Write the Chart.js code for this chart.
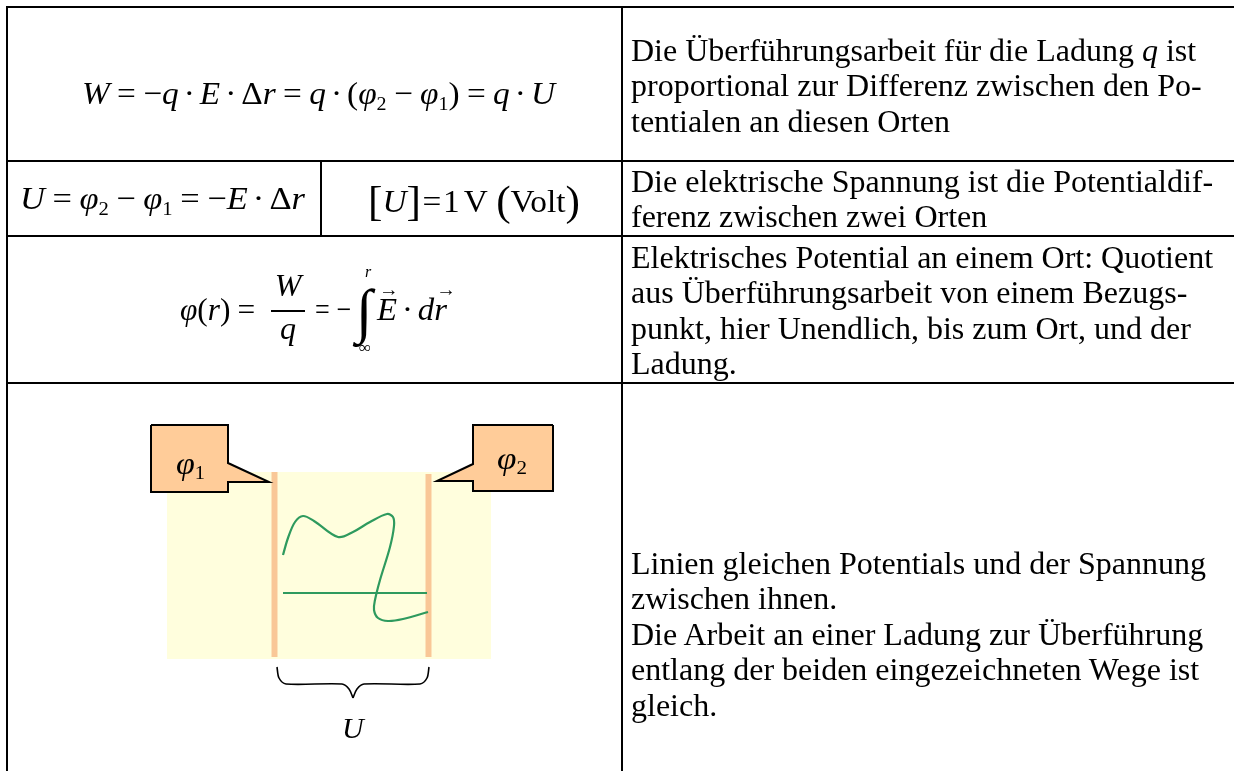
<!DOCTYPE html>
<html><head><meta charset="utf-8">
<script src="https://cdn.jsdelivr.net/npm/chart.js@4/dist/chart.umd.min.js"></script>
<style>
html,body{margin:0;padding:0;background:#fff;width:1234px;height:771px;overflow:hidden;}
#wrap{position:relative;width:1234px;height:771px;font-family:'Liberation Serif','Times New Roman',serif;color:#000;}
#c{position:absolute;left:0;top:0;z-index:0;}
.h{position:absolute;background:#000;height:2px;z-index:2}
.v{position:absolute;background:#000;width:2px;z-index:2}
.txt{position:absolute;left:631px;font-size:32px;line-height:35.4px;white-space:nowrap;z-index:3}
.f{position:absolute;white-space:nowrap;line-height:0;z-index:3;font-size:32px;transform-origin:0 50%}
.c{transform:translateX(-50%);transform-origin:50% 50%}
i{font-style:italic}
.op{margin:0 0.22em}
.dot{margin:0 0.15em}
.s{font-size:0.6em;position:relative;top:0.28em;font-style:normal}
.vec{position:relative}
.arr{position:absolute;left:0.1em;top:-0.6em;font-size:0.6em;line-height:1}
.big{font-size:1.3em;position:relative;top:0.06em}
.bar{position:absolute;background:#000;height:1.5px;z-index:3}
</style></head>
<body><div id="wrap">
<canvas id="c" width="1234" height="771"></canvas>

<!-- table rules -->
<div class="h" style="left:6px;top:6px;width:1228px"></div>
<div class="h" style="left:6px;top:160px;width:1228px"></div>
<div class="h" style="left:6px;top:235px;width:1228px"></div>
<div class="h" style="left:6px;top:382px;width:1228px"></div>
<div class="v" style="left:6px;top:6px;height:765px"></div>
<div class="v" style="left:621px;top:6px;height:765px"></div>
<div class="v" style="left:320px;top:160px;height:76px"></div>

<!-- right column text -->
<div class="txt" style="top:33px">Die Überführungsarbeit für die Ladung <i>q</i> ist<br>proportional zur Differenz zwischen den Po-<br>tentialen an diesen Orten</div>
<div class="txt" style="top:164px">Die elektrische Spannung ist die Potentialdif-<br>ferenz zwischen zwei Orten</div>
<div class="txt" style="top:240px">Elektrisches Potential an einem Ort: Quotient<br>aus Überführungsarbeit von einem Bezugs-<br>punkt, hier Unendlich, bis zum Ort, und der<br>Ladung.</div>
<div class="txt" style="top:546px">Linien gleichen Potentials und der Spannung<br>zwischen ihnen.<br>Die Arbeit an einer Ladung zur Überführung<br>entlang der beiden eingezeichneten Wege ist<br>gleich.</div>

<!-- formulas -->
<div class="f" data-w="473" style="left:82px;top:calc(104px - 0.3375em)"><i>W</i><span class="op">=</span>−<i>q</i><span class="dot">·</span><i>E</i><span class="dot">·</span>Δ<i>r</i><span class="op">=</span><i>q</i><span class="dot">·</span>(<i>φ</i><span class="s">2</span><span class="op">−</span><i>φ</i><span class="s">1</span>)<span class="op">=</span><i>q</i><span class="dot">·</span><i>U</i></div>

<div class="f" data-w="285" style="left:20px;top:calc(209px - 0.3375em)"><i>U</i><span class="op">=</span><i>φ</i><span class="s">2</span><span class="op">−</span><i>φ</i><span class="s">1</span><span class="op">=</span>−<i>E</i><span class="dot">·</span>Δ<i>r</i></div>
<div class="f" data-w="212" style="left:368px;top:calc(209px - 0.3375em)"><span class="big">[</span><i>U</i><span class="big">]</span><span style="margin:0 0.05em">=</span>1<span style="margin-left:0.12em">V</span>&nbsp;<span class="big">(</span>Volt<span class="big">)</span></div>

<div class="f" data-w="82" style="left:180px;top:calc(320px - 0.3375em)"><i>φ</i>(<i>r</i>)<span class="op">=</span></div>
<div class="f c" style="left:288px;top:calc(296px - 0.3375em)"><i>W</i></div>
<div class="bar" style="left:271px;top:310px;width:34px"></div>
<div class="f c" style="left:288px;top:calc(339px - 0.3375em)"><i>q</i></div>
<div class="f" data-w="36" style="left:315px;top:calc(320px - 0.3375em)">=<span style="margin-left:0.25em">−</span></div>
<div class="f c" style="left:364px;top:calc(331px - 0.3375em);font-size:60px"><i>∫</i></div>
<div class="f c" style="left:368px;top:calc(277px - 0.3375em);font-size:16px"><i>r</i></div>
<div class="f c" style="left:365px;top:calc(354px - 0.3375em);font-size:17px">∞</div>
<div class="f" data-w="70" style="left:377px;top:calc(320px - 0.3375em)"><span class="vec"><i>E</i><span class="arr">→</span></span><span class="dot">·</span><i>d</i><span class="vec"><i>r</i><span class="arr">→</span></span></div>

<!-- diagram labels -->
<div class="f" data-w="29" style="left:176px;top:calc(474px - 0.3375em);font-size:31px"><i>φ</i><span class="s">1</span></div>
<div class="f" data-w="30" style="left:497px;top:calc(469px - 0.3375em);font-size:31px"><i>φ</i><span class="s">2</span></div>
<div class="f" style="left:342px;top:calc(738px - 0.3375em);font-size:30px"><i>U</i></div>
</div>

<script>
// fit formula widths to the reference
document.querySelectorAll('.f[data-w]').forEach(el => {
  const w = el.getBoundingClientRect().width;
  el.style.transform = 'scaleX(' + (parseFloat(el.dataset.w) / w) + ')';
});

// Diagram series (in its coordinate units)
const fieldAreaX   = [167, 491, 491, 167, 167];
const fieldAreaY   = [472, 472, 659, 659, 472];
const potential1X  = [274.5, 274.5];
const potential1Y  = [472, 657];
const potential2X  = [428.5, 428.5];
const potential2Y  = [474, 657];
const callout1X    = [151, 228, 228, 269, 228, 228, 151, 151];
const callout1Y    = [425, 425, 463, 482, 482, 492, 492, 425];
const callout2X    = [553, 473, 473, 437, 473, 473, 553, 553];
const callout2Y    = [425, 425, 464, 481, 481, 491, 491, 425];
const curvedPathX  = [283, 288, 295, 303, 314, 338, 353, 370, 387, 393, 394, 390, 380, 375, 374, 378, 388, 403, 428];
const curvedPathY  = [555, 538, 522, 516, 521, 537, 532, 522, 514, 517, 526, 547, 580, 600, 610, 618, 621, 619, 612];
const straightPathX = [283, 427];
const straightPathY = [593, 593];
const braceLeftX   = [277, 279, 286, 342, 349, 353];
const braceLeftY   = [667, 678, 684, 684, 689, 698];
const braceRightX  = [353, 357, 364, 420, 427, 429];
const braceRightY  = [698, 689, 684, 684, 678, 667];

const pts = (xs, ys) => xs.map((x, i) => ({x, y: ys[i]}));

new Chart(document.getElementById('c'), {
  type: 'scatter',
  data: {
    datasets: [
      {data: pts(curvedPathX, curvedPathY), showLine: true, borderColor: '#2e9a5e', borderWidth: 2.2, tension: 0.35, fill: false, order: 1},
      {data: pts(straightPathX, straightPathY), showLine: true, borderColor: '#2e9a5e', borderWidth: 2.2, fill: false, order: 1},
      {data: pts(braceLeftX, braceLeftY), showLine: true, borderColor: '#000', borderWidth: 1.6, tension: 0.3, fill: false, order: 1},
      {data: pts(braceRightX, braceRightY), showLine: true, borderColor: '#000', borderWidth: 1.6, tension: 0.3, fill: false, order: 1},
      {data: pts(callout1X, callout1Y), showLine: true, borderColor: '#000', borderWidth: 2, borderJoinStyle: 'miter', backgroundColor: '#ffcc99', fill: 'shape', tension: 0, order: 3},
      {data: pts(callout2X, callout2Y), showLine: true, borderColor: '#000', borderWidth: 2, borderJoinStyle: 'miter', backgroundColor: '#ffcc99', fill: 'shape', tension: 0, order: 3},
      {data: pts(potential1X, potential1Y), showLine: true, borderColor: '#f9c797', borderWidth: 6, borderCapStyle: 'butt', fill: false, order: 5},
      {data: pts(potential2X, potential2Y), showLine: true, borderColor: '#f9c797', borderWidth: 6, borderCapStyle: 'butt', fill: false, order: 5},
      {data: pts(fieldAreaX, fieldAreaY), showLine: true, borderWidth: 0, borderColor: 'rgba(0,0,0,0)', backgroundColor: '#fffedd', fill: 'shape', tension: 0, order: 10}
    ]
  },
  options: {
    responsive: false, animation: false, devicePixelRatio: 1, events: [],
    layout: {padding: 0},
    elements: {point: {radius: 0, hoverRadius: 0}},
    plugins: {legend: {display: false}, tooltip: {enabled: false}},
    scales: {
      x: {type: 'linear', min: 0, max: 1234, display: false},
      y: {type: 'linear', min: 0, max: 771, reverse: true, display: false}
    }
  }
});
</script>
</body></html>
